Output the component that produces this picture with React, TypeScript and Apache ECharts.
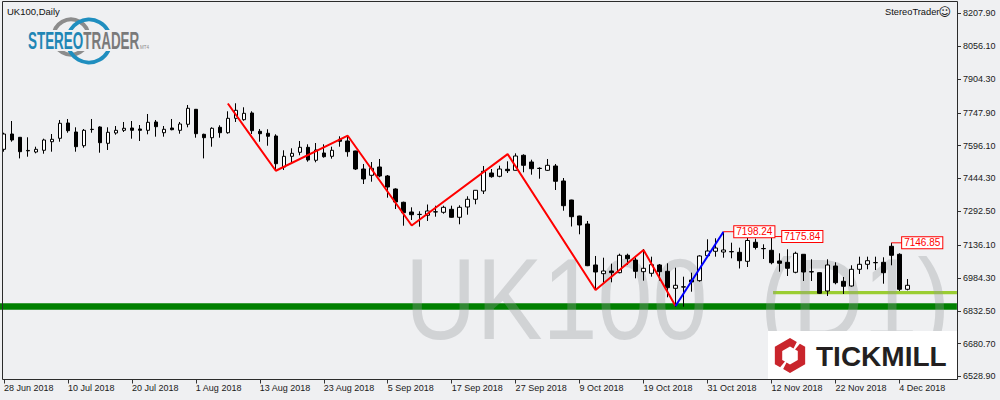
import React, { useEffect, useRef } from 'react';
import * as echarts from 'echarts';

// ---------- data ----------
const OPEN = [
  7579.2, 7649.9, 7634.7, 7574.0, 7566.7, 7574.6, 7614.3, 7630.1, 7700.8, 7659.2,
  7595.8, 7670.5, 7682.3, 7606.9, 7654.6, 7667.0, 7677.7, 7673.1, 7667.0, 7705.4,
  7655.9, 7677.7, 7667.0, 7694.8, 7764.1, 7648.5, 7632.8, 7680.9, 7655.9, 7722.5,
  7716.1, 7747.0, 7662.4, 7653.2, 7640.7, 7497.4, 7546.8, 7565.3, 7588.4, 7528.4,
  7562.1, 7546.8, 7625.4, 7617.6, 7571.4, 7488.1, 7459.0, 7497.4, 7455.8, 7395.7,
  7334.2, 7289.4, 7277.5, 7274.1, 7289.4, 7288.0, 7301.8, 7264.9, 7312.5, 7348.1,
  7386.4, 7469.6, 7454.4, 7486.8, 7482.1, 7551.5, 7520.5, 7491.4, 7482.1, 7502.0,
  7432.7, 7344.8, 7270.9, 7233.9, 7044.4, 7004.2, 7016.6, 7008.8, 7089.2, 7067.5,
  7013.4, 7006.0, 7044.4, 7015.2, 6936.6, 6943.5, 6975.0, 6971.8, 7087.3, 7107.7,
  7104.4, 7106.3, 7103.0, 7061.4, 7149.3, 7120.5, 7112.3, 7062.9, 7056.8, 7010.6,
  7093.8, 7013.4, 7008.8, 6924.2, 7039.7, 6969.0, 6947.3, 7024.4, 7047.6, 7055.5,
  7056.8, 7130.8, 7093.8, 6932.0,
];
const HIGH = [
  7655.9, 7710.0, 7636.0, 7634.7, 7591.2, 7628.2, 7649.9, 7714.7, 7719.3, 7680.9,
  7673.1, 7719.3, 7685.5, 7680.9, 7686.9, 7705.4, 7710.0, 7691.5, 7742.4, 7714.7,
  7686.9, 7719.3, 7705.4, 7784.0, 7765.5, 7651.3, 7680.9, 7690.2, 7754.9, 7791.9,
  7773.4, 7754.9, 7673.1, 7671.7, 7648.5, 7574.6, 7583.8, 7617.6, 7602.3, 7608.3,
  7602.3, 7591.2, 7639.3, 7642.1, 7572.5, 7511.3, 7520.5, 7534.4, 7460.4, 7398.9,
  7337.2, 7311.0, 7292.6, 7324.0, 7318.5, 7318.5, 7318.5, 7320.3, 7361.9, 7391.1,
  7502.0, 7488.1, 7503.4, 7523.7, 7560.6, 7556.1, 7531.1, 7496.0, 7534.4, 7511.3,
  7446.5, 7346.0, 7272.0, 7247.8, 7086.0, 7078.1, 7050.4, 7096.6, 7096.6, 7078.1,
  7118.3, 7082.8, 7049.0, 7052.2, 7031.8, 6990.3, 7008.8, 7089.2, 7163.2, 7167.8,
  7198.24, 7147.4, 7124.4, 7169.2, 7165.9, 7140.0, 7175.84, 7098.4, 7116.9, 7105.8,
  7095.0, 7070.7, 7010.0, 7070.7, 7056.8, 6988.9, 7042.9, 7082.8, 7082.8, 7082.8,
  7080.0, 7146.85, 7098.4, 6979.6,
];
const LOW = [
  7568.1, 7614.3, 7537.1, 7545.0, 7560.6, 7558.8, 7568.1, 7614.3, 7655.9, 7568.1,
  7586.6, 7655.9, 7563.5, 7576.0, 7646.7, 7659.2, 7628.2, 7617.6, 7648.5, 7637.5,
  7637.5, 7667.0, 7651.3, 7680.9, 7632.8, 7537.1, 7591.2, 7632.8, 7651.3, 7705.4,
  7711.4, 7649.9, 7614.3, 7595.8, 7480.3, 7483.5, 7520.5, 7551.5, 7521.9, 7519.1,
  7540.4, 7535.8, 7591.2, 7545.0, 7483.5, 7418.8, 7429.4, 7449.8, 7355.5, 7303.2,
  7226.0, 7252.4, 7221.4, 7247.8, 7267.6, 7281.5, 7263.0, 7232.5, 7276.9, 7325.0,
  7372.6, 7447.9, 7449.8, 7469.6, 7481.0, 7472.9, 7461.8, 7443.3, 7478.9, 7391.1,
  7295.4, 7222.3, 7186.3, 7039.0, 6928.8, 6962.5, 6964.4, 7006.0, 7044.4, 6982.8,
  6971.8, 6990.3, 6971.8, 6895.0, 6851.6, 6851.6, 6920.9, 6967.2, 7086.0, 7082.8,
  7078.1, 7075.3, 7028.2, 7035.1, 7116.0, 7072.1, 7047.6, 7013.4, 6993.5, 7006.0,
  6970.4, 6970.4, 6910.3, 6901.1, 6955.1, 6910.3, 6944.0, 7002.8, 7024.4, 7021.2,
  6957.9, 7042.9, 6924.2, 6927.0,
];
const CLOSE = [
  7649.9, 7622.2, 7568.1, 7572.0, 7579.2, 7622.2, 7625.4, 7699.4, 7665.2, 7591.2,
  7667.0, 7671.7, 7609.7, 7657.8, 7667.0, 7676.3, 7667.0, 7667.0, 7704.0, 7683.7,
  7671.7, 7669.8, 7696.2, 7768.8, 7651.3, 7632.8, 7676.3, 7655.9, 7722.5, 7759.5,
  7745.6, 7665.2, 7651.3, 7639.3, 7512.6, 7546.8, 7560.6, 7588.4, 7529.8, 7576.0,
  7545.0, 7574.6, 7616.2, 7568.1, 7488.1, 7441.9, 7491.4, 7455.8, 7404.9, 7335.6,
  7286.1, 7276.9, 7278.5, 7293.9, 7290.5, 7311.0, 7264.9, 7311.0, 7348.1, 7389.7,
  7477.5, 7452.6, 7488.1, 7480.3, 7548.2, 7505.2, 7489.5, 7490.5, 7505.2, 7431.3,
  7318.5, 7267.6, 7229.3, 7041.1, 7012.0, 7016.6, 7008.8, 7089.2, 7073.5, 7015.2,
  7029.1, 7045.8, 7013.4, 6939.4, 6950.5, 6942.3, 6965.8, 7086.0, 7109.1, 7122.9,
  7113.7, 7105.3, 7064.2, 7157.6, 7125.3, 7119.7, 7055.0, 7052.2, 7029.1, 7098.4,
  7012.0, 7012.3, 6913.5, 7044.4, 6962.5, 6945.9, 7024.4, 7047.6, 7064.2, 7055.0,
  7008.8, 7089.2, 6932.0, 6950.5,
];

const FIRST_DAY = { y: 2018, m: 5, d: 28 };
const HOLIDAYS = ['27 Aug 2018'];
const EMPTY_SLOTS = 6;
const MONTHS = ['Jan', 'Feb', 'Mar', 'Apr', 'May', 'Jun', 'Jul', 'Aug', 'Sep', 'Oct', 'Nov', 'Dec'];

const Y_TICKS = [8207.9, 8056.1, 7904.3, 7747.9, 7596.1, 7444.3, 7292.5, 7136.1, 6984.3, 6832.5, 6680.7, 6528.9];
const Y_MIN = 6515.0;
const Y_MAX = 8262.45;

const ZIGZAG_RED = [[28, 7791], [34, 7480], [43, 7642], [51, 7227], [63, 7557], [74, 6929], [80, 7114], [84, 6855]];
const ZIGZAG_BLUE = [[84, 6855], [90, 7198.24]];
const PRICE_LABELS = [
  { bar: 90, price: 7198.24 },
  { bar: 96, price: 7175.84 },
  { bar: 111, price: 7146.85 },
];
const SUPPORT_MAIN = 6852.5;
const SUPPORT_MINOR = { fromBar: 96.2, price: 6916.3 };

// ---------- helpers ----------
function tradingDays(n: number): string[] {
  const out: string[] = [];
  const d = new Date(Date.UTC(FIRST_DAY.y, FIRST_DAY.m, FIRST_DAY.d));
  while (out.length < n) {
    const wd = d.getUTCDay();
    const s = `${d.getUTCDate()} ${MONTHS[d.getUTCMonth()]} ${d.getUTCFullYear()}`;
    if (wd !== 0 && wd !== 6 && !HOLIDAYS.includes(s)) out.push(s);
    d.setUTCDate(d.getUTCDate() + 1);
  }
  return out;
}

const DATES = tradingDays(OPEN.length);
const CATEGORIES = [...DATES, ...Array(EMPTY_SLOTS).fill('')];

const BG = '#eff0f2';
const FONT = '"Liberation Sans", Arial, sans-serif';

function buildOption(): any {
  const N = CATEGORIES.length;
  const endBar = N - 0.8;
  const candles = OPEN.map((o, i) => [o, CLOSE[i], LOW[i], HIGH[i]]);

  const labelSeries = PRICE_LABELS.map((p) => ({
    type: 'line',
    xAxisIndex: 1,
    yAxisIndex: 0,
    data: [[p.bar, p.price], [p.bar + 1.35, p.price]],
    symbol: 'none',
    lineStyle: { color: '#ff0000', width: 1 },
    z: 6,
    silent: true,
    endLabel: {
      show: true,
      formatter: () => p.price.toFixed(2),
      color: '#ff0000',
      fontSize: 10,
      fontFamily: FONT,
      backgroundColor: '#ffffff',
      borderColor: '#ff0000',
      borderWidth: 1,
      padding: [1, 2, 0, 2],
      distance: 0,
    },
  }));

  const tickPolys = {
    a: [[796.82, 341.94], [790, 338], [774.84, 346.75], [774.84, 364.25], [780.15, 367.31], [784.94, 361.58], [782.21, 360], [782.21, 351], [790, 346.5], [793.51, 348.53]],
    b: [[799.85, 343.69], [805.16, 346.75], [805.16, 364.25], [790, 373], [783.18, 369.06], [786.49, 362.48], [790, 364.5], [797.79, 360], [797.79, 351], [795.06, 349.43]],
  };

  return {
    animation: false,
    backgroundColor: BG,
    grid: { left: -0.7, right: 40.7, top: 1.5, bottom: 20.5, containLabel: false },
    xAxis: [
      {
        type: 'category',
        data: CATEGORIES,
        boundaryGap: true,
        axisLine: { show: false, onZero: false },
        axisTick: { show: true, interval: 7, alignWithLabel: true, length: 4, lineStyle: { color: '#333' } },
        axisLabel: { interval: 7, align: 'left', fontSize: 9, fontFamily: FONT, color: '#1a1a1a', margin: 4 },
        splitLine: { show: false },
      },
      { type: 'value', min: -0.5, max: N - 0.5, show: false, axisLine: { onZero: false } },
    ],
    yAxis: {
      type: 'value',
      position: 'right',
      min: Y_MIN,
      max: Y_MAX,
      offset: -2.3,
      axisLine: { show: false, onZero: false },
      axisTick: { show: true, length: 4, customValues: Y_TICKS, lineStyle: { color: '#333' } },
      axisLabel: {
        customValues: Y_TICKS,
        formatter: (v: number) => v.toFixed(2),
        fontSize: 9,
        fontFamily: FONT,
        color: '#1a1a1a',
        margin: 6,
      },
      splitLine: { show: false },
    },
    series: [
      {
        type: 'line',
        xAxisIndex: 1,
        data: [[-0.5, SUPPORT_MAIN], [endBar, SUPPORT_MAIN]],
        symbol: 'none',
        lineStyle: { color: '#008000', width: 6.5 },
        z: 1,
        silent: true,
      },
      {
        type: 'line',
        xAxisIndex: 1,
        data: [[SUPPORT_MINOR.fromBar, SUPPORT_MINOR.price], [endBar, SUPPORT_MINOR.price]],
        symbol: 'none',
        lineStyle: { color: '#9acd32', width: 3.3 },
        z: 1,
        silent: true,
      },
      {
        type: 'candlestick',
        xAxisIndex: 0,
        yAxisIndex: 0,
        data: candles,
        barWidth: 4,
        itemStyle: {
          color: '#ffffff',
          color0: '#000000',
          borderColor: '#000000',
          borderColor0: '#000000',
          borderColorDoji: '#000000',
          borderWidth: 1,
        },
        z: 3,
        silent: true,
      },
      {
        type: 'line',
        xAxisIndex: 1,
        data: ZIGZAG_RED,
        symbol: 'none',
        lineStyle: { color: '#ff0000', width: 2 },
        z: 4,
        silent: true,
      },
      {
        type: 'line',
        xAxisIndex: 1,
        data: ZIGZAG_BLUE,
        symbol: 'none',
        lineStyle: { color: '#0000ff', width: 2 },
        z: 4,
        silent: true,
      },
      ...labelSeries,
    ],
    graphic: [
      // watermark
      {
        type: 'text', x: 405, y: 299, scaleX: 0.86, z: 2, silent: true,
        style: { text: 'UK100', font: `115px ${FONT}`, fill: 'rgba(150,153,156,0.33)', verticalAlign: 'middle' },
      },
      {
        type: 'text', x: 760, y: 299, scaleX: 0.85, z: 2, silent: true,
        style: { text: '(D1)', font: `115px ${FONT}`, fill: 'rgba(150,153,156,0.33)', verticalAlign: 'middle' },
      },
      // frame
      {
        type: 'rect', z: 50, silent: true,
        shape: { x: 2.5, y: 1.5, width: 955, height: 378 },
        style: { fill: 'none', stroke: '#2b2b2b', lineWidth: 1 },
      },
      // title texts
      {
        type: 'text', x: 7, y: 11, z: 50,
        style: { text: 'UK100,Daily', font: `9.5px ${FONT}`, fill: '#111', verticalAlign: 'middle' },
      },
      {
        type: 'text', x: 885, y: 12, z: 50,
        style: { text: 'StereoTrader', font: `9.3px ${FONT}`, fill: '#111', verticalAlign: 'middle' },
      },
      {
        type: 'text', x: 938.5, y: 12, z: 50,
        style: { text: '\u263A', font: '12px "DejaVu Sans"', fill: '#111', verticalAlign: 'middle' },
      },
      // StereoTrader logo
      {
        type: 'circle', z: 50, shape: { cx: 71, cy: 37, r: 17.5 },
        style: { fill: 'none', stroke: '#8c8c8c', lineWidth: 4 },
      },
      {
        type: 'circle', z: 50, shape: { cx: 89, cy: 41, r: 21.5 },
        style: { fill: 'none', stroke: '#1f8ebf', lineWidth: 4 },
      },
      {
        type: 'rect', z: 51, shape: { x: 26, y: 30, width: 116, height: 21 },
        style: { fill: BG },
      },
      {
        type: 'group', x: 28, y: 40.5, scaleX: 0.56, z: 52,
        children: [
          { type: 'text', x: 0, y: 0, z: 52, style: { text: 'STEREO', font: `bold 24px ${FONT}`, fill: '#1f86b5', verticalAlign: 'middle' } },
          { type: 'text', x: 98.7, y: 0, z: 52, style: { text: 'TRADER', font: `bold 24px ${FONT}`, fill: '#7a7a7a', verticalAlign: 'middle' } },
        ],
      },
      {
        type: 'text', x: 140, y: 47.5, z: 52,
        style: { text: 'MT4', font: `4.5px ${FONT}`, fill: '#8c8c8c', verticalAlign: 'middle' },
      },
      // Tickmill logo
      {
        type: 'rect', z: 49, shape: { x: 768, y: 331, width: 189, height: 48 },
        style: { fill: '#ffffff' },
      },
      { type: 'polygon', z: 50, shape: { points: tickPolys.a }, style: { fill: '#c9252c' } },
      { type: 'polygon', z: 50, shape: { points: tickPolys.b }, style: { fill: '#c9252c' } },
      {
        type: 'text', x: 816, y: 356, z: 50,
        style: { text: 'TICKMILL', font: `bold 28px ${FONT}`, fill: '#231f20', verticalAlign: 'middle' },
      },
    ],
  };
}

export default function App() {
  const ref = useRef<HTMLDivElement>(null);
  useEffect(() => {
    document.body.style.margin = '0';
    document.body.style.background = BG;
    const chart = echarts.init(ref.current as HTMLDivElement, undefined, { renderer: 'svg' });
    chart.setOption(buildOption());
    return () => chart.dispose();
  }, []);
  return <div ref={ref} style={{ position: 'absolute', left: 0, top: 0, width: 1000, height: 400 }} />;
}
